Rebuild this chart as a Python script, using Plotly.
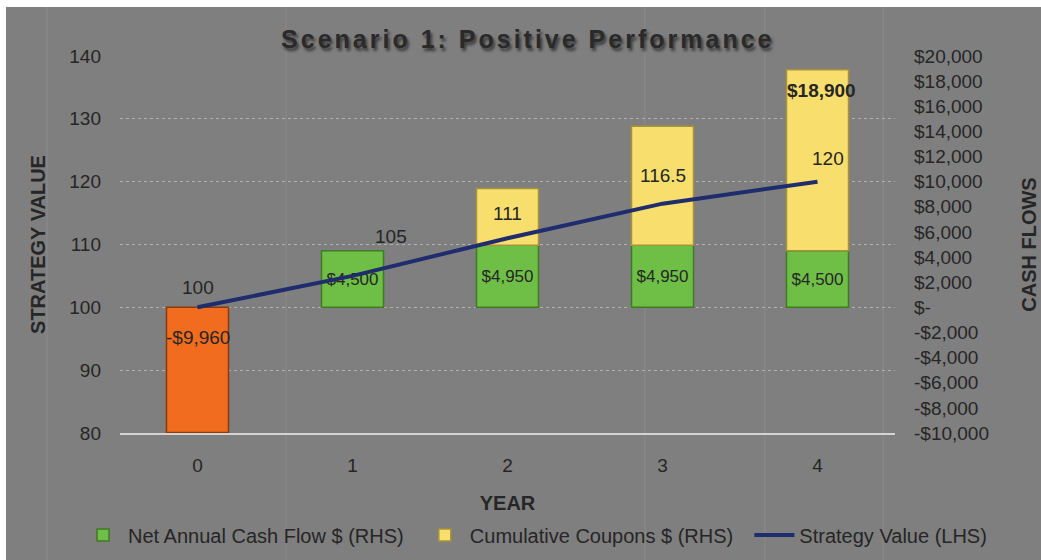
import plotly.graph_objects as go

# ---------------- data ----------------
years = [0, 1, 2, 3, 4]
year_labels = ["0", "1", "2", "3", "4"]
net_cash_flow = [-9960, 4500, 4950, 4950, 4500]          # RHS
cumulative_coupons = [None, None, 4500, 9450, 14400]     # RHS (stacked on net cash flow)
strategy_value = [100, 105, 111, 116.5, 120]             # LHS
total_label_year = 4                                     # year whose stacked total is labelled

lhs_ticks = [80, 90, 100, 110, 120, 130, 140]
rhs_tickvals = [-10000, -8000, -6000, -4000, -2000, 0, 2000, 4000, 6000, 8000,
                10000, 12000, 14000, 16000, 18000, 20000]
rhs_ticktext = ["-$10,000", "-$8,000", "-$6,000", "-$4,000", "-$2,000", "$-", "$2,000",
                "$4,000", "$6,000", "$8,000", "$10,000", "$12,000", "$14,000",
                "$16,000", "$18,000", "$20,000"]

# ---------------- style ----------------
BG = "#7f7f7f"
TXT = "#262626"
GREEN, GREEN_EDGE = "#6fbf47", "#3f7a25"
YELLOW, YELLOW_EDGE = "#f8de6c", "#a8923a"
ORANGE, ORANGE_EDGE = "#f26c1f", "#8a3a0c"
NAVY = "#1f2c6e"
FONT = "Liberation Sans, Arial, sans-serif"
line_label_shift = [(0, 20), (38, 39), (0, 25), (0, 28), (10, 23)]
PAD = "\u00a0\u00a0"   # extra spacing after legend entries


def money(v):
    return ("-$" if v < 0 else "$") + f"{abs(v):,.0f}"


fig = go.Figure()

# negative year-0 cash flow (orange, same series)
neg_x = [y for y, v in zip(years, net_cash_flow) if v < 0]
neg_v = [v for v in net_cash_flow if v < 0]
fig.add_trace(go.Bar(
    x=neg_x, y=neg_v, yaxis="y", showlegend=False,
    marker=dict(color=ORANGE, line=dict(color=ORANGE_EDGE, width=1.5)), width=0.4,
    name="Net Annual Cash Flow $ (RHS)", hoverinfo="skip",
))
for x, v in zip(neg_x, neg_v):
    fig.add_annotation(x=x, y=0, xref="x", yref="y", text=money(v), showarrow=False,
                       yanchor="middle", yshift=-30,
                       font=dict(size=19, color=TXT, family=FONT))

pos_v = [v if v >= 0 else None for v in net_cash_flow]
fig.add_trace(go.Bar(
    x=years, y=pos_v, yaxis="y", name="Net Annual Cash Flow $ (RHS)" + PAD,
    marker=dict(color=GREEN, line=dict(color=GREEN_EDGE, width=1.5)),
    text=[money(v) if v is not None else "" for v in pos_v],
    textposition="inside", insidetextanchor="middle", constraintext="none", textangle=0,
    textfont=dict(size=17, color=TXT, family=FONT), width=0.4,
))

fig.add_trace(go.Bar(
    x=years, y=cumulative_coupons, yaxis="y", name="Cumulative Coupons $ (RHS)" + PAD,
    marker=dict(color=YELLOW, line=dict(color=YELLOW_EDGE, width=1.5)), width=0.4,
))

fig.add_trace(go.Scatter(
    x=years, y=strategy_value, yaxis="y2", mode="lines", name="Strategy Value (LHS)",
    line=dict(color=NAVY, width=4),
))

# line value labels
for x, v, (dx, dy) in zip(years, strategy_value, line_label_shift):
    fig.add_annotation(x=x, y=v, xref="x", yref="y2", text=f"{v:g}", showarrow=False,
                       xshift=dx, yshift=dy, font=dict(size=19, color=TXT, family=FONT))

# stacked total label
i = years.index(total_label_year)
total = net_cash_flow[i] + cumulative_coupons[i]
fig.add_annotation(x=total_label_year, y=total, xref="x", yref="y", text=f"<b>{money(total)}</b>",
                   showarrow=False, yanchor="top", yshift=-8, xshift=4,
                   font=dict(size=19, color=TXT, family=FONT))

fig.update_layout(
    width=1041, height=560,
    margin=dict(l=120, r=146, t=56, b=127, autoexpand=False),
    paper_bgcolor=BG, plot_bgcolor=BG,
    barmode="relative",
    font=dict(family=FONT, color=TXT, size=17),
    title=dict(text='<b><span style="letter-spacing:3px">Scenario 1: Positive Performance</span></b>',
               x=0.507, xanchor="center", y=0.9307, yanchor="middle",
               font=dict(size=25, color="#2a2a2a", family=FONT,
                         shadow="2px 3px 3px rgba(0,0,0,0.55)")),
    xaxis=dict(
        type="linear", range=[-0.5, 4.5], tickvals=years, ticktext=year_labels,
        showgrid=False, zeroline=False, showline=True, linecolor="#d4d4d4", linewidth=2,
        ticks="", ticklabelstandoff=14, tickfont=dict(size=19, color=TXT),
        title=dict(text="<b>YEAR</b>", font=dict(size=20, color=TXT), standoff=21),
    ),
    yaxis=dict(
        side="right", range=[-10000, 20000], tickvals=rhs_tickvals, ticktext=rhs_ticktext,
        showgrid=False, zeroline=False, ticks="", ticklabelstandoff=18,
        tickfont=dict(size=19, color=TXT),
        title=dict(text="<b>CASH FLOWS</b>", font=dict(size=20, color=TXT), standoff=33),
    ),
    yaxis2=dict(
        side="left", overlaying="y", range=[80, 140], tickvals=lhs_ticks,
        showgrid=True, gridcolor="#b0b0b0", griddash="dot", gridwidth=1,
        zeroline=False, ticks="", ticklabelstandoff=18,
        tickfont=dict(size=19, color=TXT),
        title=dict(text="<b>STRATEGY VALUE</b>", font=dict(size=20, color=TXT), standoff=18),
    ),
    legend=dict(orientation="h", x=1.1252, xanchor="right", y=-0.2706, yanchor="middle",
                font=dict(size=20, color=TXT), bgcolor="rgba(0,0,0,0)",
                itemwidth=40, tracegroupgap=0, traceorder="normal"),
    showlegend=True,
)

# faint background column lines (spreadsheet grid behind the chart) and white top/left edge
for px in [47, 286, 645, 765, 883]:
    xp = (px - 120) / 775
    fig.add_shape(type="line", xref="paper", yref="paper", x0=xp, x1=xp, y0=-0.36, y1=1.15,
                  line=dict(color="#8c8c8c", width=1), layer="below")
fig.add_shape(type="rect", xref="paper", yref="paper", x0=-0.16, x1=1.2, y0=1.130, y1=1.16,
              fillcolor="white", line=dict(width=0), layer="above")
fig.add_shape(type="rect", xref="paper", yref="paper", x0=-0.16, x1=-0.1471, y0=-0.4, y1=1.16,
              fillcolor="white", line=dict(width=0), layer="above")

fig.write_html("out.html", config={"displayModeBar": False},
               post_script="document.body.style.margin='0';document.body.style.overflow='hidden';")
